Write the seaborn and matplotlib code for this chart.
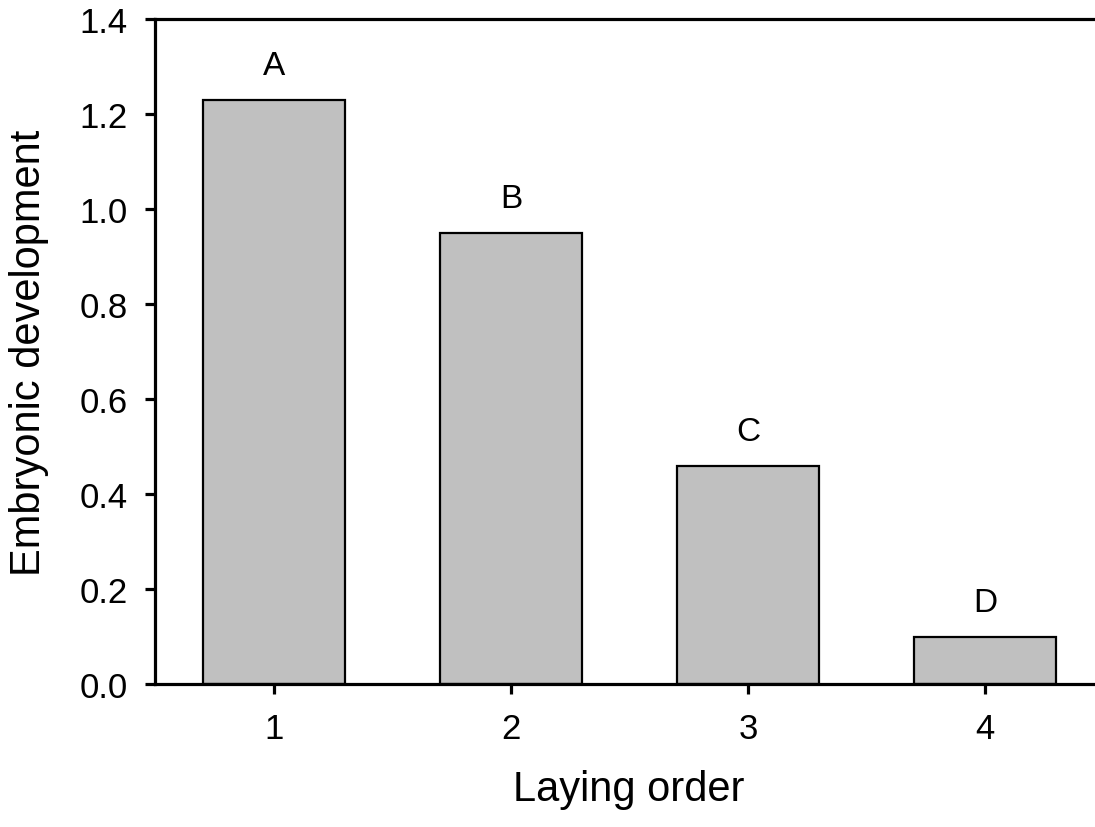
import matplotlib
matplotlib.use("Agg")
import matplotlib.pyplot as plt
import seaborn as sns
import pandas as pd

# ── Data ────────────────────────────────────────────────
laying_order = ["1", "2", "3", "4"]
development = [1.23, 0.95, 0.46, 0.10]
letters = ["A", "B", "C", "D"]

df = pd.DataFrame({"order": laying_order, "dev": development})

sns.set_style("ticks")
plt.rcParams["font.family"] = ["Liberation Sans", "DejaVu Sans"]
plt.rcParams.update({
    "text.color": "black",
    "axes.labelcolor": "black",
    "xtick.color": "black",
    "ytick.color": "black",
})

fig = plt.figure(figsize=(10.95, 8.28), dpi=100)
ax = fig.add_axes([0.1416, 0.1727, 0.8584, 0.8031])

sns.barplot(data=df, x="order", y="dev", ax=ax, color="#c0c0c0",
            saturation=1, width=0.6, edgecolor="black", linewidth=1.6)

for i, (v, lab) in enumerate(zip(development, letters)):
    ax.text(i, v + 0.04, lab, ha="center", va="bottom", fontsize=24)

ax.set_xlim(-0.502, 3.464)
ax.set_ylim(0, 1.4)
yt = [0, 0.2, 0.4, 0.6, 0.8, 1.0, 1.2, 1.4]
ax.set_yticks(yt)
ax.set_yticklabels([f"{t:.1f}" for t in yt])

ax.spines["right"].set_visible(False)
for s in ["left", "bottom", "top"]:
    ax.spines[s].set_linewidth(2.3)
    ax.spines[s].set_color("black")

ax.tick_params(axis="both", labelsize=25, width=2.3, length=7.5)
ax.tick_params(axis="x", pad=13)
ax.tick_params(axis="y", pad=12)
ax.set_xlabel("Laying order", fontsize=30)
ax.set_ylabel("Embryonic development", fontsize=30, labelpad=22)
ax.xaxis.set_label_coords(0.504, -0.128)

fig.savefig("out.png", dpi=100)
